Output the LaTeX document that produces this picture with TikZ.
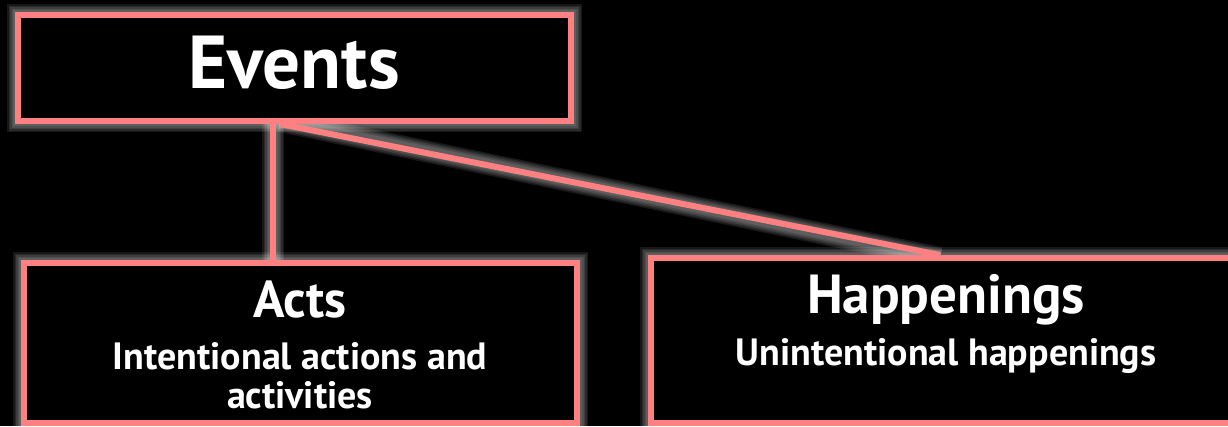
\documentclass[tikz,border=0pt]{standalone}
\usepackage{fontspec}
\setmainfont{PT Sans}
\definecolor{edge}{RGB}{255,128,128}
\tikzset{
  x=1pt, y=-1pt,
  box/.style={draw=edge, line width=6pt, fill=black, inner sep=0pt},
  label/.style={text=white, inner sep=0pt, anchor=base},
  link/.style={draw=edge, line width=6pt},
  glow/.style={draw=white, line width=#1, opacity=0.09},
}
\begin{document}
\begin{tikzpicture}
\useasboundingbox (0,0) rectangle (1228,426);
\fill[black] (0,0) rectangle (1228,426);
\clip (0,0) rectangle (1228,426);
\coordinate (eA) at (18,15);  \coordinate (eB) at (571,121);
\coordinate (aA) at (24,263); \coordinate (aB) at (577,423);
\coordinate (hA) at (651,258); \coordinate (hB) at (1236,423);
\coordinate (top) at (273,121); \coordinate (topR) at (280,121);
\coordinate (acttop) at (273,263); \coordinate (haptop) at (940,258);
% glow
\foreach \w in {22pt,19pt,16pt,13pt,10pt}{
  \draw[glow=\w] (eA) rectangle (eB);
  \draw[glow=\w] (aA) rectangle (aB);
  \draw[glow=\w] (hA) rectangle (hB);
  \draw[glow=\w] (top) -- (acttop);
  \draw[glow=\w] (topR) -- (haptop);
}
% boxes
\node[box, minimum width=553pt, minimum height=106pt] (events) at (294.5,68) {};
\node[box, minimum width=553pt, minimum height=160pt] (acts) at (300.5,343) {};
\node[box, minimum width=585pt, minimum height=165pt] (happ) at (943.5,340.5) {};
% texts
\node[label, font=\bfseries\fontsize{75}{80}\selectfont] (eventsT) at (294,88) {Events};
\node[label, font=\bfseries\fontsize{52}{56}\selectfont] (actsT) at (300,317) {Acts};
\node[label, font=\bfseries\fontsize{38}{40}\selectfont] (actsS1) at (300,369) {Intentional actions and};
\node[label, font=\bfseries\fontsize{38}{40}\selectfont] (actsS2) at (300,408) {activities};
\node[label, font=\bfseries\fontsize{55}{60}\selectfont] (happT) at (946,313) {Happenings};
\node[label, font=\bfseries\fontsize{38}{40}\selectfont] (happS) at (946,365) {Unintentional happenings};
% connectors
\draw[link] (events.south -| top) -- (acts.north -| top);
\draw[link] (events.south -| topR) -- (happ.north -| haptop);
\draw[draw=edge, line width=6pt] (eA) rectangle (eB);
\end{tikzpicture}
\end{document}
